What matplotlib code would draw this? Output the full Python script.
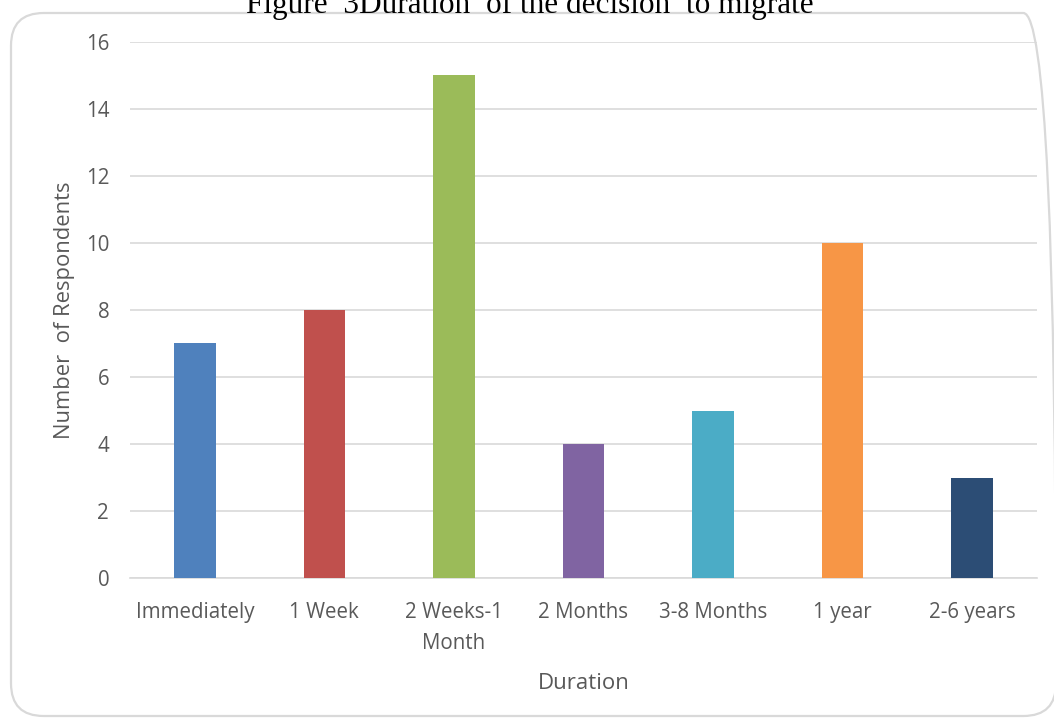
import matplotlib
matplotlib.use("Agg")
import matplotlib.pyplot as plt
from matplotlib.patches import FancyBboxPatch

categories = ["Immediately", "1 Week", "2 Weeks-1\nMonth", "2 Months",
              "3-8 Months", "1 year", "2-6 years"]
respondents = [7, 8, 15, 4, 5, 10, 3]
bar_colors = ["#4F81BD", "#C0504D", "#9BBB59", "#8064A2",
              "#4BACC6", "#F79646", "#2C4D75"]
y_ticks = [0, 2, 4, 6, 8, 10, 12, 14, 16]

W, H = 1054, 718
fig = plt.figure(figsize=(W / 100, H / 100), dpi=100)
fig.patch.set_facecolor("white")

# rounded chart-area frame
frame = FancyBboxPatch((11 / W, 2 / H), (1056 - 11) / W, (705 - 2) / H,
                       boxstyle="round,pad=0,rounding_size=0.031",
                       transform=fig.transFigure, facecolor="none",
                       edgecolor="#d9d9d9", linewidth=1.6, mutation_aspect=W / H)
fig.patches.append(frame)

ax = fig.add_axes([130 / W, 1 - 578 / H, (1037 - 130) / W, (578 - 42) / H])
x = list(range(len(categories)))
ax.bar(x, respondents, width=0.32, color=bar_colors, zorder=3)

ax.set_xlim(-0.5, len(categories) - 0.5)
ax.set_ylim(0, 16)
ax.set_yticks(y_ticks)
ax.set_xticks(x)

font = "Open Sans"
txt = "#595959"
ax.set_xticklabels(categories, fontsize=14.8, color=txt, family=font, linespacing=1.62)
ax.set_yticklabels([str(v) for v in y_ticks], fontsize=14.8, color=txt, family=font)
ax.tick_params(axis="both", length=0)
ax.tick_params(axis="x", pad=17)
ax.tick_params(axis="y", pad=15)

ax.grid(axis="y", color="#d9d9d9", linewidth=1.2, zorder=0)
for side in ("top", "right", "left"):
    ax.spines[side].set_visible(False)
ax.spines["bottom"].set_color("#d9d9d9")
ax.spines["bottom"].set_linewidth(1.2)

ax.set_xlabel("Duration", fontsize=16, color=txt, family=font, labelpad=14)
ax.set_ylabel("Number  of Respondents", fontsize=15.8, color=txt, family=font, labelpad=8)

fig.text(530 / W, 1 - 13 / H, "Figure  3Duration  of the decision  to migrate",
         ha="center", va="baseline", fontsize=22.5, family="Liberation Serif",
         color="black")

fig.savefig("out.png", dpi=100)
